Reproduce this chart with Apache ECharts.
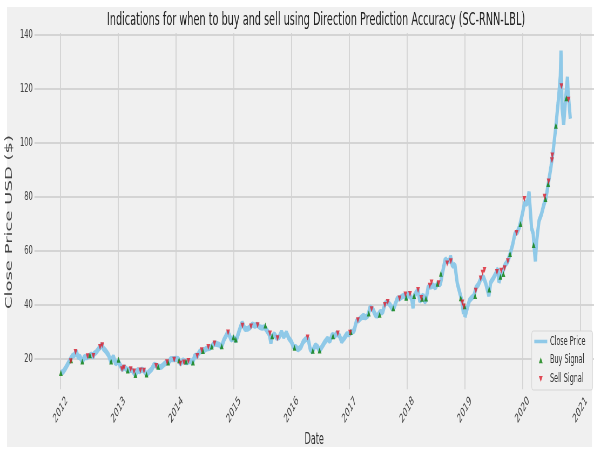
<!DOCTYPE html>
<html>
<head>
<meta charset="utf-8">
<script src="https://cdn.jsdelivr.net/npm/echarts@6.0.0/dist/echarts.min.js"></script>
<style>
  html, body { margin: 0; padding: 0; background: #fff; overflow: hidden; }
  /* the reference picture is squeezed sideways, so draw wide and squeeze */
  #chart { width: 1100px; height: 453px; transform: scaleX(0.54); transform-origin: 0 0; }
</style>
</head>
<body>
<div id="chart"></div>
<script>
// AAPL close (split adjusted)
const dates = [
  '2012-01-03','2012-01-17','2012-01-31','2012-02-14','2012-02-29','2012-03-15','2012-03-30','2012-04-09','2012-04-23','2012-05-01',
  '2012-05-18','2012-05-31','2012-06-15','2012-06-29','2012-07-16','2012-07-25','2012-07-31','2012-08-15','2012-08-31','2012-09-19',
  '2012-09-28','2012-10-15','2012-10-31','2012-11-15','2012-11-30','2012-12-14','2012-12-31',
  '2013-01-15','2013-01-24','2013-02-07','2013-02-28','2013-03-15','2013-03-28','2013-04-19','2013-04-30','2013-05-15','2013-05-31',
  '2013-06-14','2013-06-28','2013-07-15','2013-07-31','2013-08-15','2013-08-30','2013-09-18','2013-09-30','2013-10-15','2013-10-31',
  '2013-11-15','2013-11-29','2013-12-13','2013-12-31',
  '2014-01-15','2014-01-28','2014-02-14','2014-02-28','2014-03-14','2014-03-31','2014-04-15','2014-04-30','2014-05-15','2014-05-30',
  '2014-06-13','2014-06-30','2014-07-15','2014-07-31','2014-08-15','2014-08-29','2014-09-15','2014-09-30','2014-10-15','2014-10-31',
  '2014-11-14','2014-11-26','2014-12-15','2014-12-31',
  '2015-01-15','2015-01-30','2015-02-13','2015-02-23','2015-03-13','2015-03-31','2015-04-15','2015-04-28','2015-05-15','2015-05-29',
  '2015-06-15','2015-06-30','2015-07-15','2015-07-31','2015-08-14','2015-08-24','2015-08-31','2015-09-15','2015-09-30','2015-10-15',
  '2015-10-30','2015-11-13','2015-11-30','2015-12-15','2015-12-31',
  '2016-01-15','2016-01-29','2016-02-11','2016-02-29','2016-03-15','2016-03-31','2016-04-15','2016-04-29','2016-05-12','2016-05-31',
  '2016-06-15','2016-06-27','2016-07-15','2016-07-29','2016-08-15','2016-08-31','2016-09-15','2016-09-30','2016-10-14','2016-10-31',
  '2016-11-14','2016-11-30','2016-12-15','2016-12-30',
  '2017-01-13','2017-01-31','2017-02-15','2017-02-28','2017-03-15','2017-03-31','2017-04-13','2017-04-28','2017-05-12','2017-05-31',
  '2017-06-15','2017-06-30','2017-07-14','2017-07-31','2017-08-15','2017-08-31','2017-09-15','2017-09-29','2017-10-13','2017-10-31',
  '2017-11-15','2017-11-30','2017-12-15','2017-12-29',
  '2018-01-12','2018-01-31','2018-02-08','2018-02-15','2018-02-28','2018-03-12','2018-03-23','2018-04-13','2018-04-20','2018-04-30',
  '2018-05-15','2018-05-31','2018-06-15','2018-06-29','2018-07-13','2018-07-31','2018-08-15','2018-08-31','2018-09-14','2018-09-28',
  '2018-10-03','2018-10-15','2018-10-31','2018-11-15','2018-11-30','2018-12-14','2018-12-24','2018-12-31',
  '2019-01-03','2019-01-15','2019-01-31','2019-02-15','2019-02-28','2019-03-15','2019-03-29','2019-04-15','2019-04-30','2019-05-15',
  '2019-06-03','2019-06-14','2019-06-28','2019-07-15','2019-07-31','2019-08-05','2019-08-15','2019-08-30','2019-09-13','2019-09-30',
  '2019-10-15','2019-10-31','2019-11-15','2019-11-29','2019-12-13','2019-12-31',
  '2020-01-15','2020-01-31','2020-02-12','2020-02-28','2020-03-09','2020-03-16','2020-03-23','2020-03-31','2020-04-15','2020-04-30',
  '2020-05-15','2020-05-29','2020-06-15','2020-06-30','2020-07-15','2020-07-31','2020-08-14','2020-08-28','2020-09-01','2020-09-08',
  '2020-09-18','2020-09-23','2020-10-01','2020-10-12','2020-10-16','2020-10-30'
];
const closes = [
  14.7,15.1,16.3,17.8,19.4,20.9,21.4,22.7,20.4,20.9,
  18.9,20.6,20.5,20.9,21.6,20.5,21.8,22.5,23.8,25.1,
  23.8,22.7,21.3,18.8,20.9,18.2,19.0,
  17.3,16.1,16.8,15.8,15.8,15.8,13.9,15.8,15.3,16.0,
  15.4,14.1,15.2,16.1,17.8,17.4,16.9,17.0,17.8,18.6,
  18.7,19.9,19.8,20.0,
  19.9,18.1,19.4,18.8,18.7,19.2,18.5,21.1,21.0,22.6,
  22.8,23.2,23.8,23.9,24.5,25.6,25.4,25.2,24.4,27.0,
  28.6,29.8,27.1,27.6,
  26.7,29.3,31.8,33.3,31.0,31.1,31.7,32.7,32.2,32.6,
  31.7,31.4,31.7,30.3,29.0,25.8,28.2,29.1,27.6,28.0,
  29.9,28.1,29.6,27.6,26.3,
  24.3,24.3,23.4,24.2,26.2,27.2,27.5,23.4,22.6,25.0,
  24.3,23.0,24.7,26.1,27.4,26.5,28.9,28.3,29.4,28.4,
  26.4,27.6,29.0,29.0,
  29.8,30.3,33.9,34.2,35.1,35.9,35.3,35.9,39.0,38.2,
  36.1,36.0,37.3,37.2,40.4,41.0,40.0,38.5,39.2,42.3,
  42.3,43.0,43.5,42.3,
  44.3,41.9,38.8,43.2,44.5,45.4,41.2,43.7,41.4,41.3,
  46.6,46.7,47.2,46.3,47.8,47.6,52.3,56.9,56.0,56.4,
  58.0,54.4,54.7,47.9,44.6,41.4,36.7,39.4,
  35.5,38.3,41.6,42.6,43.3,46.5,47.5,49.8,50.2,47.7,
  43.3,48.2,49.5,51.3,53.3,48.3,50.4,52.2,54.7,56.0,
  58.8,62.2,66.4,66.8,68.8,73.4,
  77.8,77.4,81.8,68.3,66.5,60.6,56.1,63.6,71.1,73.4,
  76.9,79.5,85.7,91.2,97.7,106.3,114.9,124.8,134.2,112.8,
  106.8,107.1,116.8,124.4,119.0,108.9
];

const buyDates = [
  '2012-01-03','2012-03-08','2012-05-18','2012-07-05','2012-11-16','2013-01-02','2013-03-01','2013-04-19','2013-06-28','2013-09-10',
  '2013-11-12','2014-01-20','2014-03-05','2014-04-18','2014-06-20','2014-08-15','2014-10-17','2014-12-30','2015-01-14','2015-07-20',
  '2015-09-01','2016-01-20','2016-05-15','2016-06-27','2016-09-20','2017-01-10','2017-05-04','2017-07-12','2017-10-06','2017-12-27',
  '2018-02-15','2018-04-06','2018-05-01','2018-07-13','2018-08-03','2018-12-07','2018-12-31','2019-03-08','2019-06-05','2019-08-15',
  '2019-09-03','2019-10-15','2019-12-20','2020-03-12','2020-05-26','2020-06-12','2020-07-31','2020-10-05'
];
const buyPrices = [
  14.7,19.4,18.9,21.3,18.9,19.6,15.6,13.9,14.1,17.0,
  18.6,19.4,18.9,18.6,22.8,24.5,24.6,27.9,27.1,32.3,
  28.3,24.0,22.9,23.0,28.3,29.9,36.7,36.3,38.7,42.6,
  43.2,42.2,42.3,47.8,51.5,42.4,39.4,43.2,45.6,50.4,
  51.4,58.8,69.9,62.1,79.2,84.7,106.3,116.5
];
const sellDates = [
  '2012-03-06','2012-04-05','2012-06-20','2012-07-27','2012-09-07','2012-09-21','2013-01-24','2013-02-05','2013-03-20','2013-04-10',
  '2013-05-20','2013-06-12','2013-08-28','2013-11-05','2013-12-20','2014-01-28','2014-02-20','2014-03-20','2014-05-15','2014-06-12',
  '2014-07-24','2014-09-01','2014-11-26','2015-02-25','2015-04-20','2015-06-01','2015-08-18','2015-10-05','2016-04-12','2016-10-20',
  '2017-01-06','2017-02-24','2017-05-22','2017-08-14','2017-09-01','2017-11-15','2017-12-22','2018-01-20','2018-03-12','2018-04-01',
  '2018-05-25','2018-06-05','2018-07-20','2018-09-12','2018-10-05','2018-12-17','2018-12-26','2019-03-12','2019-04-12','2019-04-24',
  '2019-05-06','2019-07-24','2019-08-20','2019-09-10','2019-10-01','2019-11-25','2020-01-13','2020-05-20','2020-06-15','2020-07-06',
  '2020-07-08','2020-09-04','2020-10-19'
];
const sellPrices = [
  19.0,22.5,20.9,21.0,24.3,25.0,16.1,16.6,16.1,15.2,
  15.6,15.5,17.3,18.7,19.6,18.1,18.6,19.1,21.0,23.1,
  24.3,25.6,29.7,32.2,31.9,32.4,29.3,27.6,27.8,29.3,
  29.6,34.2,38.3,39.9,41.0,42.3,43.8,44.0,45.4,42.5,
  47.0,48.2,47.9,55.3,56.1,40.8,39.3,45.2,49.7,51.8,
  52.9,52.1,52.6,53.5,56.1,66.6,79.2,80.0,85.7,93.5,
  95.3,121.0,116.0
];

const yTicks = [20, 40, 60, 80, 100, 120, 140];
const yearTicks = [2012, 2013, 2014, 2015, 2016, 2017, 2018, 2019, 2020, 2021];

const SX = 0.54;              // horizontal squeeze of the page
const px = x => x / SX;       // picture x -> chart x
const font = 'DejaVu Sans';
const lineColor = '#8fc9e8';

function ts(s) {
  const p = s.split('-').map(Number);
  return new Date(p[0], p[1] - 1, p[2]).getTime();
}
const yearStamps = yearTicks.map(y => new Date(y, 0, 1).getTime());

const chart = echarts.init(document.getElementById('chart'));

chart.setOption({
  animation: false,
  textStyle: { fontFamily: font },
  graphic: [
    { type: 'rect', z: -10, silent: true,
      shape: { x: px(7), y: 7, width: px(585), height: 440 },
      style: { fill: '#f0f0f0' } },
    { type: 'rect', z: 10, silent: true,
      shape: { x: px(531.7), y: 331, width: px(61), height: 59, r: 3 },
      style: { fill: '#f0f0f0', stroke: '#d6d6d6', lineWidth: 1 } }
  ],
  title: {
    text: 'Indications for when to buy and sell using Direction Prediction Accuracy (SC-RNN-LBL)',
    left: px(316),
    textAlign: 'center',
    top: 11,
    padding: 0,
    textStyle: { fontSize: 18, fontWeight: 'normal', color: '#222', fontFamily: font }
  },
  legend: {
    orient: 'vertical',
    left: px(534.3),
    top: 335.5,
    padding: 0,
    itemWidth: 24,
    itemHeight: 6,
    itemGap: 6.8,
    z: 20,
    selectedMode: false,
    textStyle: { fontSize: 12, color: '#333', fontFamily: font },
    data: [
      { name: 'Close Price', icon: 'path://M0,0H24V3.5H0Z' },
      { name: 'Buy Signal', icon: 'path://M0,6L3.5,0L7,6Z' },
      { name: 'Sell Signal', icon: 'path://M0,0L7,0L3.5,6Z' }
    ]
  },
  grid: { left: px(33), right: 0, top: 33, bottom: 58 },
  xAxis: {
    type: 'value',
    min: new Date(2011, 6, 20).getTime(),
    max: new Date(2021, 2, 29).getTime(),
    name: 'Date',
    nameLocation: 'middle',
    nameGap: 38,
    nameTextStyle: { fontSize: 15, color: '#333', fontFamily: font },
    axisLine: { show: false },
    axisTick: { show: false, customValues: yearStamps },
    axisLabel: {
      customValues: yearStamps,
      formatter: v => String(new Date(v).getFullYear()),
      rotate: 45,
      align: 'center',
      verticalAlign: 'middle',
      margin: 21,
      fontSize: 12.5,
      color: '#444',
      fontFamily: font
    },
    splitLine: { show: true, lineStyle: { color: '#d2d2d2', width: 1.8 } }
  },
  yAxis: {
    type: 'value',
    min: 8.7,
    max: 140.7,
    name: 'Close Price USD ($)',
    nameLocation: 'middle',
    nameRotate: 90,
    nameGap: 31,
    nameTextStyle: { fontSize: 18, color: '#444', fontFamily: font, padding: [0, 22, 0, 0] },
    axisLine: { show: false },
    axisTick: { show: false, customValues: yTicks },
    axisLabel: { customValues: yTicks, fontSize: 12.5, color: '#444', margin: 3, fontFamily: font },
    splitLine: { show: true, lineStyle: { color: '#cbcbcb', width: 1.5 } }
  },
  series: [
    {
      name: 'Close Price',
      type: 'line',
      data: dates.map((d, i) => [ts(d), closes[i]]),
      showSymbol: false,
      symbol: 'none',
      lineStyle: { width: 6, color: lineColor },
      itemStyle: { color: lineColor },
      emphasis: { disabled: true },
      z: 2
    },
    {
      name: 'Buy Signal',
      type: 'scatter',
      data: buyDates.map((d, i) => [ts(d), buyPrices[i]]),
      symbol: 'triangle',
      symbolSize: [7, 6],
      itemStyle: { color: '#0a800a' },
      emphasis: { disabled: true },
      z: 3
    },
    {
      name: 'Sell Signal',
      type: 'scatter',
      data: sellDates.map((d, i) => [ts(d), sellPrices[i]]),
      symbol: 'triangle',
      symbolRotate: 180,
      symbolSize: [7, 6],
      itemStyle: { color: '#dc1f2e' },
      emphasis: { disabled: true },
      z: 3
    }
  ]
});
</script>
</body>
</html>
